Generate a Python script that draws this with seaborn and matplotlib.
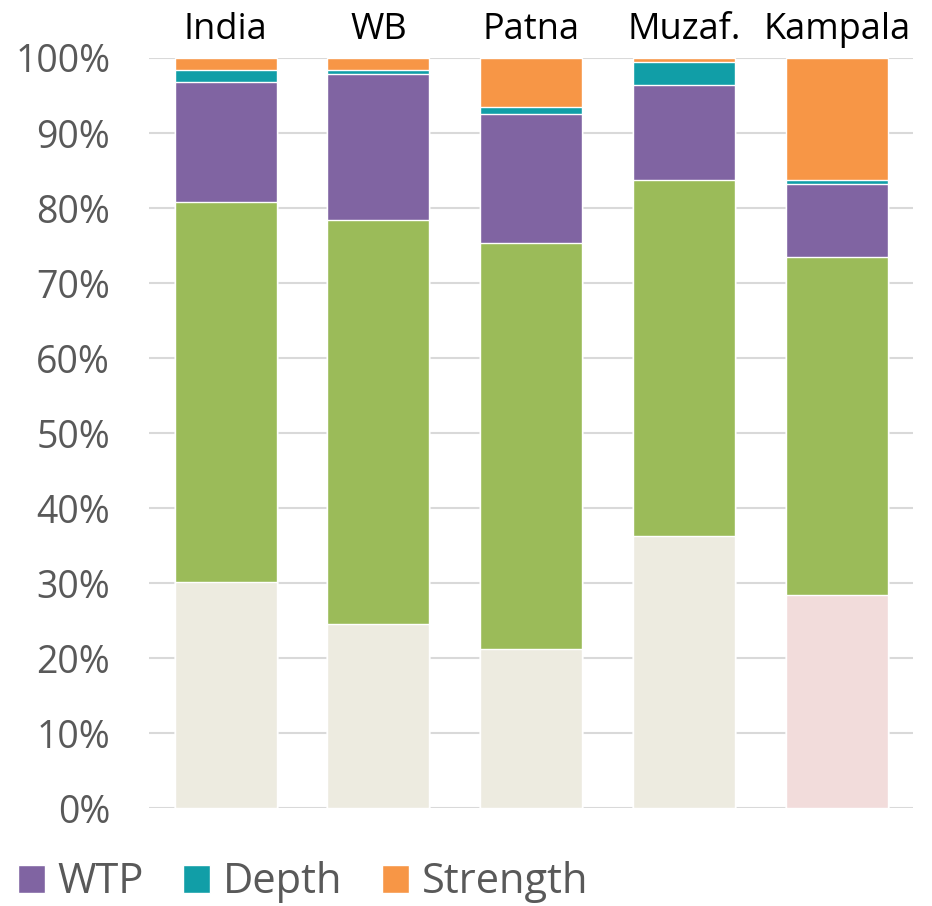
import matplotlib.pyplot as plt
import seaborn as sns
import numpy as np
from matplotlib.patches import Patch
from matplotlib.ticker import PercentFormatter

# values in percent
cities = ["India", "WB", "Patna", "Muzaf.", "Kampala"]
base = [30.2, 24.6, 21.2, 36.3, 28.4]
green = [50.6, 53.8, 54.1, 47.4, 45.1]
wtp = [16.0, 19.5, 17.2, 12.7, 9.7]
depth = [1.6, 0.5, 1.0, 3.1, 0.5]
strength = [1.6, 1.6, 6.5, 0.5, 16.3]

base_colors = ["#EDEBE0", "#EDEBE0", "#EDEBE0", "#EDEBE0", "#F2DCDB"]
c_green = "#9BBB59"
c_wtp = "#8064A2"
c_depth = "#119EA7"
c_strength = "#F79646"
tick_grey = "#595959"

sns.set_theme(style="white")
plt.rcParams["font.family"] = ["Open Sans", "DejaVu Sans"]

fig = plt.figure(figsize=(9.32, 9.06), dpi=100)
ax = fig.add_axes([0.160, 0.108, 0.820, 0.828])

# stacked bars: draw cumulative totals, tallest first
layers = [base, green, wtp, depth, strength]
cum = np.cumsum(np.array(layers), axis=0)
layer_colors = [base_colors, c_green, c_wtp, c_depth, c_strength]
for i in range(len(layers) - 1, -1, -1):
    col = layer_colors[i]
    pal = col if isinstance(col, list) else [col] * len(cities)
    sns.barplot(x=cities, y=cum[i], hue=cities, palette=pal, legend=False,
                width=0.667, saturation=1, ax=ax, zorder=2)

ax.set_xlim(-0.5, 4.5)
ax.set_ylim(0, 100)
ax.set_yticks(np.arange(0, 101, 10))
ax.yaxis.set_major_formatter(PercentFormatter(decimals=0))
ax.yaxis.grid(True, color="#D9D9D9", linewidth=1.5, zorder=0)
ax.set_axisbelow(True)
for s in ax.spines.values():
    s.set_visible(False)

ax.xaxis.tick_top()
ax.tick_params(axis="x", length=0, pad=7, labelsize=26, labelcolor="black")
ax.tick_params(axis="y", length=0, pad=28, labelsize=27, labelcolor=tick_grey)
ax.set_xlabel("")
ax.set_ylabel("")

handles = [Patch(facecolor=c_wtp, label="WTP"),
           Patch(facecolor=c_depth, label="Depth"),
           Patch(facecolor=c_strength, label="Strength")]
fig.legend(handles=handles, loc="center left", bbox_to_anchor=(0.019, 0.026),
           ncol=3, frameon=False, fontsize=30, labelcolor=tick_grey,
           handlelength=0.65, handleheight=0.65, handletextpad=0.3,
           columnspacing=0.95, borderaxespad=0.0, borderpad=0.0)

fig.savefig("out.png", dpi=100)
